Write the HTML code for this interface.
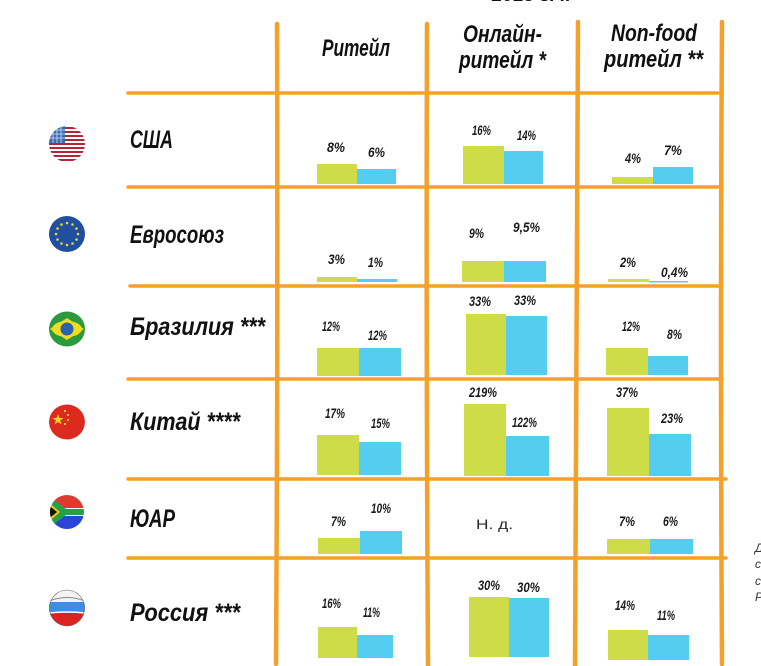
<!DOCTYPE html>
<html><head><meta charset="utf-8">
<style>
html,body{margin:0;padding:0;background:#fff;}
svg{display:block;}
.h{font-family:"Liberation Sans","Noto Sans CJK SC",sans-serif;font-weight:bold;font-style:italic;fill:#111;}
.p{font-family:"Liberation Sans","Noto Sans CJK SC",sans-serif;font-weight:bold;font-style:italic;fill:#1a1a1a;font-size:14px;}
</style></head>
<body>
<svg width="761" height="666" viewBox="0 0 761 666" xmlns="http://www.w3.org/2000/svg">
<defs>
<clipPath id="c1"><circle cx="67" cy="144" r="18"/></clipPath>
<clipPath id="c5"><circle cx="67" cy="512" r="17"/></clipPath>
<clipPath id="c6"><circle cx="67" cy="608" r="18"/></clipPath>
<clipPath id="c4"><circle cx="67" cy="422" r="18"/></clipPath>
</defs>
<rect width="761" height="666" fill="#fff"/>

<!-- cut-off title at top -->
<text x="492" y="1" class="h" font-size="20" textLength="78" lengthAdjust="spacingAndGlyphs">2013 г. к</text>

<!-- grid lines -->
<g stroke="#f4a02a" stroke-linecap="round" fill="none">
<path d="M128 93 L718 93" stroke-width="3.5"/>
<path d="M128 187 L718 187" stroke-width="3.5"/>
<path d="M130 286 L720 286" stroke-width="3.5"/>
<path d="M128 379 L722 379" stroke-width="3.5"/>
<path d="M128 479 L726 479" stroke-width="3.5"/>
<path d="M128 558 L726 558" stroke-width="3.5"/>
<path d="M277 24 Q278 340 276 664" stroke-width="4.5"/>
<path d="M427 24 Q426 340 428 666" stroke-width="4.5"/>
<path d="M578 22 Q577 350 575 666" stroke-width="4.5"/>
<path d="M722 22 Q720 340 722 664" stroke-width="4.5"/>
</g>

<!-- headers -->
<text x="322" y="56" class="h" font-size="24" textLength="68" lengthAdjust="spacingAndGlyphs">Ритейл</text>
<text x="463" y="42" class="h" font-size="24" textLength="79" lengthAdjust="spacingAndGlyphs">Онлайн-</text>
<text x="459" y="68" class="h" font-size="24" textLength="87" lengthAdjust="spacingAndGlyphs">ритейл *</text>
<text x="611" y="41" class="h" font-size="24" textLength="86" lengthAdjust="spacingAndGlyphs">Non-food</text>
<text x="604" y="67" class="h" font-size="24" textLength="99" lengthAdjust="spacingAndGlyphs">ритейл **</text>

<!-- country labels -->
<text x="130" y="148" class="h" font-size="25" textLength="43" lengthAdjust="spacingAndGlyphs">США</text>
<text x="130" y="243" class="h" font-size="25" textLength="94" lengthAdjust="spacingAndGlyphs">Евросоюз</text>
<text x="130" y="335" class="h" font-size="25" textLength="135" lengthAdjust="spacingAndGlyphs">Бразилия ***</text>
<text x="130" y="430" class="h" font-size="25" textLength="110" lengthAdjust="spacingAndGlyphs">Китай ****</text>
<text x="130" y="527" class="h" font-size="25" textLength="45" lengthAdjust="spacingAndGlyphs">ЮАР</text>
<text x="130" y="621" class="h" font-size="25" textLength="110" lengthAdjust="spacingAndGlyphs">Россия ***</text>

<!-- flags -->
<!-- USA -->
<g clip-path="url(#c1)">
<rect x="49" y="126" width="36" height="36" fill="#fff"/>
<g fill="#b8233a">
<rect x="49" y="127" width="36" height="2"/>
<rect x="49" y="131" width="36" height="2"/>
<rect x="49" y="135" width="36" height="2"/>
<rect x="49" y="139" width="36" height="2"/>
<rect x="49" y="143" width="36" height="2"/>
<rect x="49" y="147" width="36" height="2"/>
<rect x="49" y="151" width="36" height="2"/>
<rect x="49" y="155" width="36" height="2"/>
<rect x="49" y="159" width="36" height="2"/>
</g>
<rect x="49" y="126" width="16" height="17" fill="#3b6db3"/>
<g stroke="#cfe0f5" stroke-width="0.8">
<path d="M49 130 H65 M49 134 H65 M49 138 H65 M53 126 V143 M57 126 V143 M61 126 V143"/>
</g>
</g>
<!-- EU -->
<circle cx="67" cy="234" r="18" fill="#1f4f9e"/>
<g fill="#e8d63a">
<circle cx="67" cy="223" r="1.3"/><circle cx="72.5" cy="224.5" r="1.3"/><circle cx="76.5" cy="228.5" r="1.3"/>
<circle cx="78" cy="234" r="1.3"/><circle cx="76.5" cy="239.5" r="1.3"/><circle cx="72.5" cy="243.5" r="1.3"/>
<circle cx="67" cy="245" r="1.3"/><circle cx="61.5" cy="243.5" r="1.3"/><circle cx="57.5" cy="239.5" r="1.3"/>
<circle cx="56" cy="234" r="1.3"/><circle cx="57.5" cy="228.5" r="1.3"/><circle cx="61.5" cy="224.5" r="1.3"/>
</g>
<!-- Brazil -->
<ellipse cx="67" cy="329" rx="18" ry="17.5" fill="#2a9a3c"/>
<path d="M50 329 L67 318 L84 329 L67 340 Z" fill="#f1dc1e"/>
<ellipse cx="67" cy="329" rx="15" ry="8" fill="#f1dc1e"/>
<circle cx="67" cy="329" r="6.5" fill="#2b62b0"/>
<!-- China -->
<g clip-path="url(#c4)">
<ellipse cx="67" cy="422" rx="18" ry="17.5" fill="#dc2a1e"/>
<polygon points="58,414 59.4,418 63.5,418 60.2,420.5 61.5,424.5 58,422 54.5,424.5 55.8,420.5 52.5,418 56.6,418" fill="#f6d51c"/>
<circle cx="65" cy="411" r="1.1" fill="#f6d51c"/>
<circle cx="68" cy="415" r="1.1" fill="#f6d51c"/>
<circle cx="68" cy="420" r="1.1" fill="#f6d51c"/>
<circle cx="65" cy="424" r="1.1" fill="#f6d51c"/>
</g>
<!-- South Africa -->
<g clip-path="url(#c5)">
<rect x="49" y="495" width="36" height="34" fill="#fff"/>
<rect x="49" y="495" width="36" height="13" fill="#de3b2c"/>
<rect x="49" y="516" width="36" height="13" fill="#2b46d6"/>
<path d="M46 494 L66 509 L86 509 L86 515 L66 515 L46 530 Z" fill="#23a348"/>
<path d="M46 500 L60 512 L46 524 Z" fill="#f2c41a"/>
<path d="M46 503 L57 512 L46 521 Z" fill="#111"/>
</g>
<!-- Russia -->
<g clip-path="url(#c6)">
<rect x="49" y="590" width="36" height="36" fill="#f4f4f4"/>
<rect x="49" y="602" width="36" height="11" fill="#3c8ee6"/>
<rect x="49" y="613" width="36" height="13" fill="#dd2222"/>
<path d="M49 601 Q67 594 85 601" stroke="#888" stroke-width="1" fill="none"/>
<path d="M49 613 Q67 611 85 613" stroke="#fff" stroke-width="1.5" fill="none"/>
</g>
<ellipse cx="67" cy="608" rx="17.5" ry="18" fill="none" stroke="#666" stroke-width="0.6"/>

<!-- bars -->
<g>
<!-- USA -->
<rect x="317" y="164" width="40" height="20" fill="#cedc47"/>
<rect x="357" y="169" width="39" height="15" fill="#55cdf0"/>
<rect x="463" y="146" width="41" height="38" fill="#cedc47"/>
<rect x="504" y="151" width="39" height="33" fill="#55cdf0"/>
<rect x="612" y="177" width="41" height="7" fill="#cedc47"/>
<rect x="653" y="167" width="40" height="17" fill="#55cdf0"/>
<!-- EU -->
<rect x="317" y="277" width="40" height="5" fill="#cedc47"/>
<rect x="357" y="279" width="40" height="3" fill="#55cdf0"/>
<rect x="462" y="261" width="42" height="21" fill="#cedc47"/>
<rect x="504" y="261" width="42" height="21" fill="#55cdf0"/>
<rect x="608" y="279" width="41" height="3" fill="#cedc47"/>
<rect x="649" y="281" width="39" height="1.5" fill="#55cdf0"/>
<!-- Brazil -->
<rect x="317" y="348" width="42" height="28" fill="#cedc47"/>
<rect x="359" y="348" width="42" height="28" fill="#55cdf0"/>
<rect x="466" y="314" width="40" height="61" fill="#cedc47"/>
<rect x="506" y="316" width="41" height="59" fill="#55cdf0"/>
<rect x="606" y="348" width="42" height="27" fill="#cedc47"/>
<rect x="648" y="356" width="40" height="19" fill="#55cdf0"/>
<!-- China -->
<rect x="317" y="435" width="42" height="40" fill="#cedc47"/>
<rect x="359" y="442" width="42" height="33" fill="#55cdf0"/>
<rect x="464" y="404" width="42" height="72" fill="#cedc47"/>
<rect x="506" y="436" width="43" height="40" fill="#55cdf0"/>
<rect x="607" y="408" width="42" height="68" fill="#cedc47"/>
<rect x="649" y="434" width="42" height="42" fill="#55cdf0"/>
<!-- South Africa -->
<rect x="318" y="538" width="42" height="16" fill="#cedc47"/>
<rect x="360" y="531" width="42" height="23" fill="#55cdf0"/>
<rect x="607" y="539" width="43" height="15" fill="#cedc47"/>
<rect x="650" y="539" width="43" height="15" fill="#55cdf0"/>
<!-- Russia -->
<rect x="318" y="627" width="39" height="31" fill="#cedc47"/>
<rect x="357" y="635" width="36" height="23" fill="#55cdf0"/>
<rect x="469" y="597" width="40" height="60" fill="#cedc47"/>
<rect x="509" y="598" width="40" height="59" fill="#55cdf0"/>
<rect x="608" y="630" width="40" height="30" fill="#cedc47"/>
<rect x="648" y="635" width="41" height="25" fill="#55cdf0"/>
</g>

<!-- percent labels -->
<g class="p">
<text x="327" y="152" textLength="18" lengthAdjust="spacingAndGlyphs">8%</text>
<text x="368" y="157" textLength="17" lengthAdjust="spacingAndGlyphs">6%</text>
<text x="472" y="135" textLength="19" lengthAdjust="spacingAndGlyphs">16%</text>
<text x="517" y="140" textLength="19" lengthAdjust="spacingAndGlyphs">14%</text>
<text x="625" y="163" textLength="16" lengthAdjust="spacingAndGlyphs">4%</text>
<text x="664" y="155" textLength="18" lengthAdjust="spacingAndGlyphs">7%</text>

<text x="328" y="264" textLength="17" lengthAdjust="spacingAndGlyphs">3%</text>
<text x="368" y="267" textLength="15" lengthAdjust="spacingAndGlyphs">1%</text>
<text x="469" y="238" textLength="15" lengthAdjust="spacingAndGlyphs">9%</text>
<text x="513" y="232" textLength="27" lengthAdjust="spacingAndGlyphs">9,5%</text>
<text x="620" y="267" textLength="16" lengthAdjust="spacingAndGlyphs">2%</text>
<text x="661" y="277" textLength="27" lengthAdjust="spacingAndGlyphs">0,4%</text>

<text x="322" y="331" textLength="18" lengthAdjust="spacingAndGlyphs">12%</text>
<text x="368" y="340" textLength="19" lengthAdjust="spacingAndGlyphs">12%</text>
<text x="469" y="306" textLength="22" lengthAdjust="spacingAndGlyphs">33%</text>
<text x="514" y="305" textLength="22" lengthAdjust="spacingAndGlyphs">33%</text>
<text x="622" y="331" textLength="18" lengthAdjust="spacingAndGlyphs">12%</text>
<text x="667" y="339" textLength="15" lengthAdjust="spacingAndGlyphs">8%</text>

<text x="325" y="418" textLength="20" lengthAdjust="spacingAndGlyphs">17%</text>
<text x="371" y="428" textLength="19" lengthAdjust="spacingAndGlyphs">15%</text>
<text x="469" y="397" textLength="28" lengthAdjust="spacingAndGlyphs">219%</text>
<text x="512" y="427" textLength="25" lengthAdjust="spacingAndGlyphs">122%</text>
<text x="616" y="397" textLength="22" lengthAdjust="spacingAndGlyphs">37%</text>
<text x="661" y="423" textLength="22" lengthAdjust="spacingAndGlyphs">23%</text>

<text x="331" y="526" textLength="15" lengthAdjust="spacingAndGlyphs">7%</text>
<text x="371" y="513" textLength="20" lengthAdjust="spacingAndGlyphs">10%</text>
<text x="619" y="526" textLength="16" lengthAdjust="spacingAndGlyphs">7%</text>
<text x="663" y="526" textLength="15" lengthAdjust="spacingAndGlyphs">6%</text>

<text x="322" y="608" textLength="19" lengthAdjust="spacingAndGlyphs">16%</text>
<text x="363" y="617" textLength="17" lengthAdjust="spacingAndGlyphs">11%</text>
<text x="478" y="590" textLength="22" lengthAdjust="spacingAndGlyphs">30%</text>
<text x="517" y="592" textLength="23" lengthAdjust="spacingAndGlyphs">30%</text>
<text x="615" y="610" textLength="20" lengthAdjust="spacingAndGlyphs">14%</text>
<text x="657" y="620" textLength="18" lengthAdjust="spacingAndGlyphs">11%</text>
</g>

<text x="476" y="529" font-family="Liberation Sans, sans-serif" font-size="14" fill="#2a2a2a" textLength="37" lengthAdjust="spacingAndGlyphs">Н. д.</text>

<!-- cut-off side note -->
<g font-family="Liberation Sans, sans-serif" font-style="italic" font-size="12" fill="#333">
<text x="755" y="552">Д</text>
<text x="755" y="568">с</text>
<text x="755" y="585">с</text>
<text x="755" y="601">Р</text>
</g>
</svg>
</body></html>
